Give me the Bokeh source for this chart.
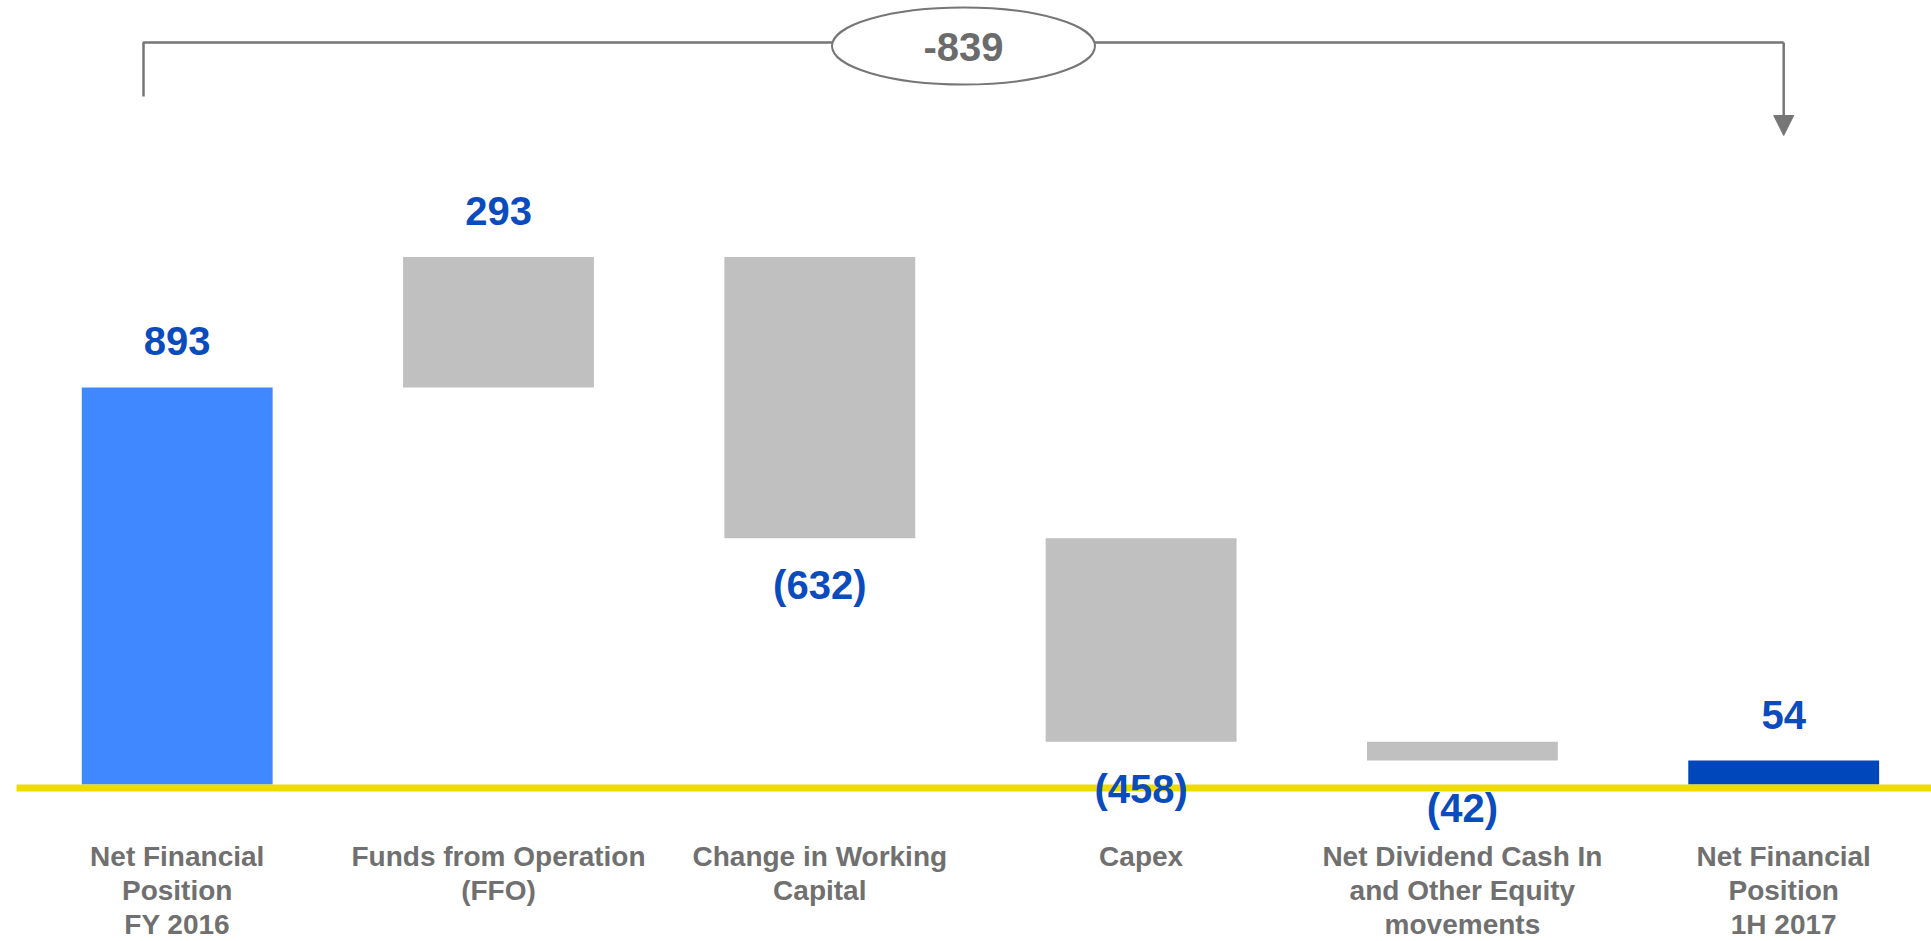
from bokeh.plotting import figure
from bokeh.models import Arrow, NormalHead
from bokeh.embed import file_html
from bokeh.resources import INLINE
from bokeh.core.properties import value

# ---------------- data ----------------
categories = [
    "Net Financial\nPosition\nFY 2016",
    "Funds from Operation\n(FFO)",
    "Change in Working\nCapital",
    "Capex",
    "Net Dividend Cash In\nand Other Equity\nmovements",
    "Net Financial\nPosition\n1H 2017",
]
values = [893, 293, -632, -458, -42, 54]
kinds = ["start", "delta", "delta", "delta", "delta", "end"]

# ---------------- layout / style ----------------
W, H = 1931, 941
X0, X1 = -0.55, 5.46
Y0, Y1 = -353.0, 1763.0
FONT = value("Liberation Sans")
BLUE_TXT = "#0A4BBD"
GRAY_TXT = "#707070"
LINE_GRAY = "#767676"
colors_by_kind = {"start": "#3F88FF", "delta": "#C0C0C0", "end": "#0047BB"}

sx = W / (X1 - X0)
sy = H / (Y1 - Y0)


def px_x(px):
    return X0 + px / sx


def px_y(py):
    return Y1 - py / sy


# waterfall geometry
bottoms, tops = [], []
running = 0
for v, k in zip(values, kinds):
    if k in ("start", "end"):
        bottoms.append(min(0, v))
        tops.append(max(0, v))
        running = v
    else:
        new = running + v
        bottoms.append(min(running, new))
        tops.append(max(running, new))
        running = new
xs = list(range(len(values)))
cols = [colors_by_kind[k] for k in kinds]

p = figure(width=W, height=H, x_range=(X0, X1), y_range=(Y0, Y1),
           output_backend="svg", toolbar_location=None,
           min_border=0, outline_line_color=None, background_fill_color="white",
           border_fill_color="white")
p.axis.visible = False
p.grid.visible = False

p.vbar(x=xs, bottom=bottoms, top=tops, width=0.594, fill_color=cols,
       line_color=None)

# yellow baseline just under zero
yl = 0 - 3.5 / sy
p.segment(x0=[-0.5], y0=[yl], x1=[len(values)], y1=[yl], line_color="#EEDC00",
          line_width=7)

# value labels
pos_x = [x for x, v in zip(xs, values) if v > 0]
pos_y = [t for t, v in zip(tops, values) if v > 0]
pos_t = [str(v) for v in values if v > 0]
neg_x = [x for x, v in zip(xs, values) if v < 0]
neg_y = [b for b, v in zip(bottoms, values) if v < 0]
neg_t = ["(%d)" % (-v) for v in values if v < 0]

p.text(x=pos_x, y=pos_y, text=pos_t, text_align="center", text_baseline="alphabetic",
       y_offset=-46, text_font=FONT, text_font_style="bold", text_font_size="40px",
       text_color=BLUE_TXT)
p.text(x=neg_x, y=neg_y, text=neg_t, text_align="center", text_baseline="alphabetic",
       y_offset=47, text_font=FONT, text_font_style="bold", text_font_size="40px",
       text_color=BLUE_TXT)

# category labels
p.text(x=xs, y=[0] * len(xs), text=categories, text_align="center",
       text_baseline="top", y_offset=56, text_font=FONT, text_font_style="bold",
       text_font_size="28px", text_line_height=1.1, text_color=GRAY_TXT)

# bracket with total change
change = values[-1] - values[0]
bx_left = px_x(143)
bx_right = xs[-1]
by_top = px_y(42)
p.line(x=[bx_left, bx_left, bx_right], y=[px_y(96), by_top, by_top],
       line_color=LINE_GRAY, line_width=2.5)
p.add_layout(Arrow(end=NormalHead(size=20, fill_color=LINE_GRAY, line_color=LINE_GRAY),
                   x_start=bx_right, y_start=by_top, x_end=bx_right, y_end=px_y(135),
                   line_color=LINE_GRAY, line_width=2.5))
ex = px_x(963)
p.ellipse(x=[ex], y=[px_y(45.5)], width=263, height=77, width_units="screen",
          height_units="screen", fill_color="white", line_color=LINE_GRAY, line_width=2)
p.text(x=[ex], y=[px_y(46)], text=["%d" % change], text_align="center",
       text_baseline="alphabetic", text_font=FONT, text_font_style="bold",
       text_font_size="40px", text_color="#6B6B6B")

open("out.html", "w").write(file_html(p, INLINE))
